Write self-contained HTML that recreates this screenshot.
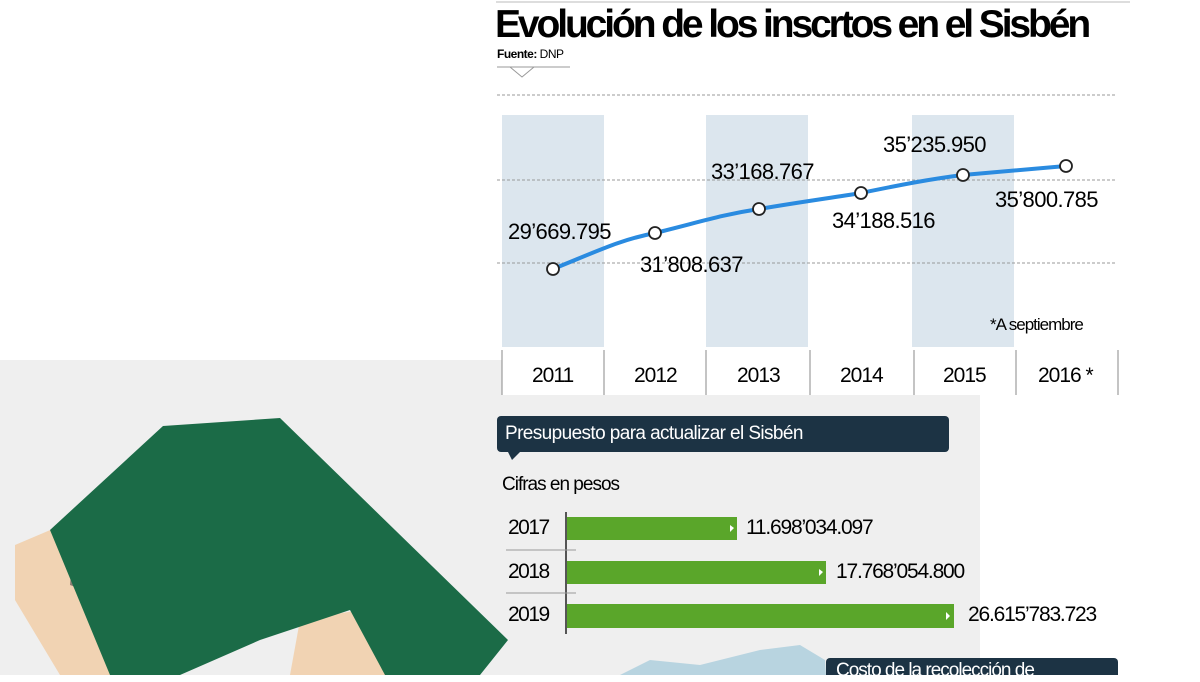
<!DOCTYPE html>
<html><head><meta charset="utf-8"><style>
body{margin:0;width:1200px;height:675px;overflow:hidden;background:#fff;font-family:"Liberation Sans",sans-serif;}
.a{position:absolute;white-space:nowrap}
.n{font-size:22px;letter-spacing:-0.6px}
</style></head><body>
<div class="a" style="left:0;top:360px;width:980px;height:315px;background:#efefef"></div>
<svg class="a" style="left:0;top:0" width="1200" height="675">
<polygon points="15,545 55,528 110,600 110,675 60,675 15,600" fill="#f1d3b3"/>
<polygon points="55,528 75,522 70,585 110,600" fill="#8a7d72"/>
<polygon points="300,620 420,600 430,675 290,675" fill="#f1d3b3"/>
<polygon points="50,530 163,426 280,418 508,640 480,675 385,675 350,610 260,640 180,675 110,675" fill="#1b6b47"/>
<rect x="502" y="115" width="102" height="232" fill="#dce6ee"/>
<rect x="706" y="115" width="102" height="232" fill="#dce6ee"/>
<rect x="912" y="115" width="102" height="232" fill="#dce6ee"/>
<g stroke="#999" stroke-width="1" stroke-dasharray="3,2">
<line x1="497" y1="95" x2="1115" y2="95"/><line x1="497" y1="180" x2="1115" y2="180"/><line x1="497" y1="263" x2="1115" y2="263"/>
</g>
<line x1="496" y1="2" x2="1130" y2="2" stroke="#bbb"/>
<polyline points="497,67 570,67" fill="none" stroke="#999"/>
<polyline points="510,67 522,77 534,67" fill="none" stroke="#999"/>
<rect x="502" y="347" width="616" height="48" fill="#fff"/>
<g stroke="#888"><line x1="502" y1="350" x2="502" y2="395"/><line x1="604" y1="350" x2="604" y2="395"/><line x1="706" y1="350" x2="706" y2="395"/><line x1="810" y1="350" x2="810" y2="395"/><line x1="914" y1="350" x2="914" y2="395"/><line x1="1016" y1="350" x2="1016" y2="395"/><line x1="1118" y1="350" x2="1118" y2="395"/></g>
<path d="M553,269 C600,250 620,240 655,233 C700,222 720,215 759,209 C800,202 830,198 861,193 C900,185 930,179 963,175 L1066,166" fill="none" stroke="#2a8be0" stroke-width="4"/>
<g fill="#fff" stroke="#222" stroke-width="1.8">
<circle cx="553" cy="269" r="6"/><circle cx="655" cy="233" r="6"/><circle cx="759" cy="209" r="6"/><circle cx="861" cy="193" r="6"/><circle cx="963" cy="175" r="6"/><circle cx="1066" cy="166" r="6"/></g>
<rect x="497" y="416" width="452" height="36" rx="4" fill="#1c3344"/>
<polygon points="508,452 520,452 512,460" fill="#1c3344"/>
<line x1="566" y1="512" x2="566" y2="634" stroke="#555" stroke-width="2"/>
<line x1="506" y1="550" x2="576" y2="550" stroke="#999"/><line x1="506" y1="593" x2="576" y2="593" stroke="#999"/>
<rect x="567" y="517" width="170" height="23" fill="#5aa62a"/>
<rect x="567" y="561" width="259" height="23" fill="#5aa62a"/>
<rect x="567" y="604" width="387" height="24" fill="#5aa62a"/>
<g fill="#fff"><polygon points="730,525 734,528 730,532"/><polygon points="819,569 823,572 819,576"/><polygon points="946,612 950,616 946,620"/></g>
<polygon points="620,675 650,660 700,665 760,650 800,645 825,660 826,675" fill="#b8d4e0"/>
<rect x="826" y="658" width="292" height="30" rx="4" fill="#1c3344"/>
</svg>
<div class="a" style="left:495px;top:3px;font-size:39px;font-weight:bold;letter-spacing:-3.1px">Evolución de los inscrtos en el Sisbén</div>
<div class="a" style="left:497px;top:47px;font-size:12px;letter-spacing:-0.5px"><b>Fuente:</b> DNP</div>
<div class="a n" style="left:508px;top:219px">29’669.795</div>
<div class="a n" style="left:640px;top:252px">31’808.637</div>
<div class="a n" style="left:711px;top:159px">33’168.767</div>
<div class="a n" style="left:832px;top:208px">34’188.516</div>
<div class="a n" style="left:883px;top:132px">35’235.950</div>
<div class="a n" style="left:995px;top:187px">35’800.785</div>
<div class="a" style="left:990px;top:315px;font-size:17px;letter-spacing:-1px">*A septiembre</div>
<div class="a" style="top:364px;font-size:21px;letter-spacing:-1px;left:532px">2011</div>
<div class="a" style="top:364px;font-size:21px;letter-spacing:-1px;left:634px">2012</div>
<div class="a" style="top:364px;font-size:21px;letter-spacing:-1px;left:737px">2013</div>
<div class="a" style="top:364px;font-size:21px;letter-spacing:-1px;left:840px">2014</div>
<div class="a" style="top:364px;font-size:21px;letter-spacing:-1px;left:943px">2015</div>
<div class="a" style="top:364px;font-size:21px;letter-spacing:-1px;left:1038px">2016 *</div>
<div class="a" style="left:505px;top:423px;font-size:19px;letter-spacing:-0.6px;color:#fff">Presupuesto para actualizar el Sisbén</div>
<div class="a" style="left:502px;top:474px;font-size:19px;letter-spacing:-1px">Cifras en pesos</div>
<div class="a" style="left:508px;top:516px;font-size:21px;letter-spacing:-1.5px">2017</div>
<div class="a" style="left:508px;top:560px;font-size:21px;letter-spacing:-1.5px">2018</div>
<div class="a" style="left:508px;top:603px;font-size:21px;letter-spacing:-1.5px">2019</div>
<div class="a" style="left:746px;top:516px;font-size:21px;letter-spacing:-1.2px">11.698’034.097</div>
<div class="a" style="left:836px;top:560px;font-size:21px;letter-spacing:-1.2px">17.768’054.800</div>
<div class="a" style="left:968px;top:603px;font-size:21px;letter-spacing:-1.2px">26.615’783.723</div>
<div class="a" style="left:836px;top:660px;font-size:19px;color:#fff;letter-spacing:-1px">Costo de la recolección de</div>
</body></html>
